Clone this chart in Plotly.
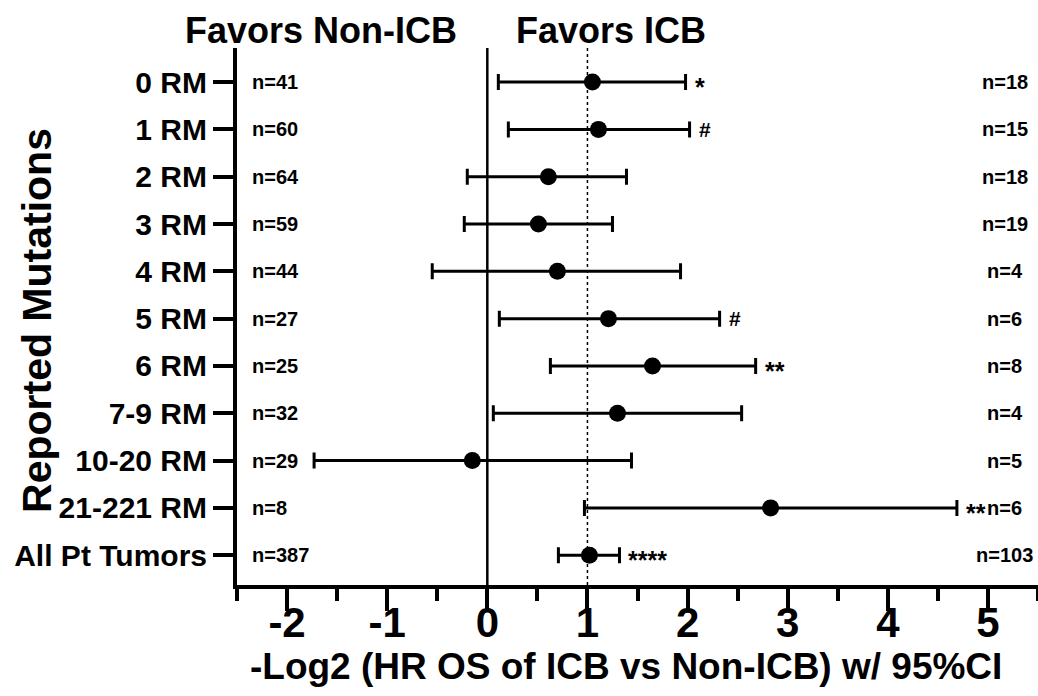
import plotly.graph_objects as go

categories = ["0 RM", "1 RM", "2 RM", "3 RM", "4 RM", "5 RM", "6 RM",
              "7-9 RM", "10-20 RM", "21-221 RM", "All Pt Tumors"]
estimate = [1.05, 1.11, 0.61, 0.51, 0.70, 1.21, 1.65, 1.30, -0.15, 2.83, 1.02]
ci_low = [0.11, 0.21, -0.20, -0.23, -0.55, 0.12, 0.63, 0.06, -1.73, 0.97, 0.71]
ci_high = [1.98, 2.02, 1.39, 1.25, 1.93, 2.32, 2.68, 2.54, 1.44, 4.69, 1.32]
n_non_icb = [41, 60, 64, 59, 44, 27, 25, 32, 29, 8, 387]
n_icb = [18, 15, 18, 19, 4, 6, 8, 4, 5, 6, 103]
significance = ["*", "#", "", "", "", "#", "**", "", "", "**", "****"]
x_ticks = [-2, -1, 0, 1, 2, 3, 4, 5]

FONT = "Arial, Liberation Sans, sans-serif"
ypos = list(range(len(categories)))

fig = go.Figure()
fig.add_trace(go.Scatter(
    x=estimate, y=ypos, mode="markers",
    marker=dict(color="black", size=17),
    error_x=dict(type="data", symmetric=False,
                 array=[h - e for h, e in zip(ci_high, estimate)],
                 arrayminus=[e - l for e, l in zip(estimate, ci_low)],
                 color="black", thickness=3, width=8),
    showlegend=False, hoverinfo="skip",
))

# reference lines
fig.add_shape(type="line", xref="x", yref="paper", x0=0, x1=0, y0=0, y1=1,
              line=dict(color="black", width=2.5))
fig.add_shape(type="line", xref="x", yref="paper", x0=1, x1=1, y0=0, y1=1,
              line=dict(color="black", width=1.5, dash="dot"))

ann = []
for i in ypos:
    ann.append(dict(x=-2.37, y=i, xref="x", yref="y", text=f"n={n_non_icb[i]}",
                    xanchor="left", yanchor="middle", showarrow=False,
                    font=dict(family=FONT, size=20, color="black", weight="bold")))
    ann.append(dict(x=5.17, y=i, xref="x", yref="y", text=f"n={n_icb[i]}",
                    xanchor="center", yanchor="middle", showarrow=False,
                    font=dict(family=FONT, size=20, color="black", weight="bold")))
    if significance[i]:
        s = significance[i]
        ann.append(dict(x=ci_high[i], y=i, xref="x", yref="y", text=s,
                        xanchor="left", yanchor="middle", showarrow=False,
                        xshift=7, yshift=(-5 if "*" in s else 0),
                        font=dict(family=FONT, size=(25 if "*" in s else 21),
                                  color="black", weight="bold")))

ann.append(dict(x=-1.66, y=1.0335, xref="x", yref="paper", text="Favors Non-ICB",
                xanchor="center", yanchor="middle", showarrow=False,
                font=dict(family=FONT, size=36, color="black", weight="bold")))
ann.append(dict(x=1.235, y=1.0335, xref="x", yref="paper", text="Favors ICB",
                xanchor="center", yanchor="middle", showarrow=False,
                font=dict(family=FONT, size=36, color="black", weight="bold")))
ann.append(dict(x=1.385, y=-0.152, xref="x", yref="paper",
                text="-Log2 (HR OS of ICB vs Non-ICB) w/ 95%CI",
                xanchor="center", yanchor="middle", showarrow=False,
                font=dict(family=FONT, size=37, color="black", weight="bold")))
ann.append(dict(x=-0.2497, y=0.4935, xref="paper", yref="paper",
                text="Reported Mutations", textangle=-90,
                xanchor="center", yanchor="middle", showarrow=False,
                font=dict(family=FONT, size=41, color="black", weight="bold")))

fig.update_layout(
    width=1038, height=696,
    margin=dict(l=237, r=0, t=48, b=111),
    paper_bgcolor="white", plot_bgcolor="white",
    annotations=ann,
    xaxis=dict(range=[-2.5, 5.5], tickvals=x_ticks, ticktext=[str(v) for v in x_ticks],
               showgrid=False, zeroline=False,
               showline=True, linecolor="black", linewidth=4,
               ticks="outside", ticklen=22, tickwidth=4, tickcolor="black",
               ticklabelstandoff=-24,
               minor=dict(dtick=0.5, ticks="outside", ticklen=12, tickwidth=4,
                          tickcolor="black", showgrid=False),
               tickfont=dict(family=FONT, size=42, color="black", weight="bold")),
    yaxis=dict(range=[10.63, -0.72], tickvals=ypos, ticktext=categories,
               showgrid=False, zeroline=False,
               showline=True, linecolor="black", linewidth=4,
               ticks="outside", ticklen=20, tickwidth=4, tickcolor="black",
               tickfont=dict(family=FONT, size=30, color="black", weight="bold")),
)

fig.write_html("out.html", config={"displayModeBar": False},
               post_script="document.body.style.margin='0';document.body.style.overflow='hidden';")
